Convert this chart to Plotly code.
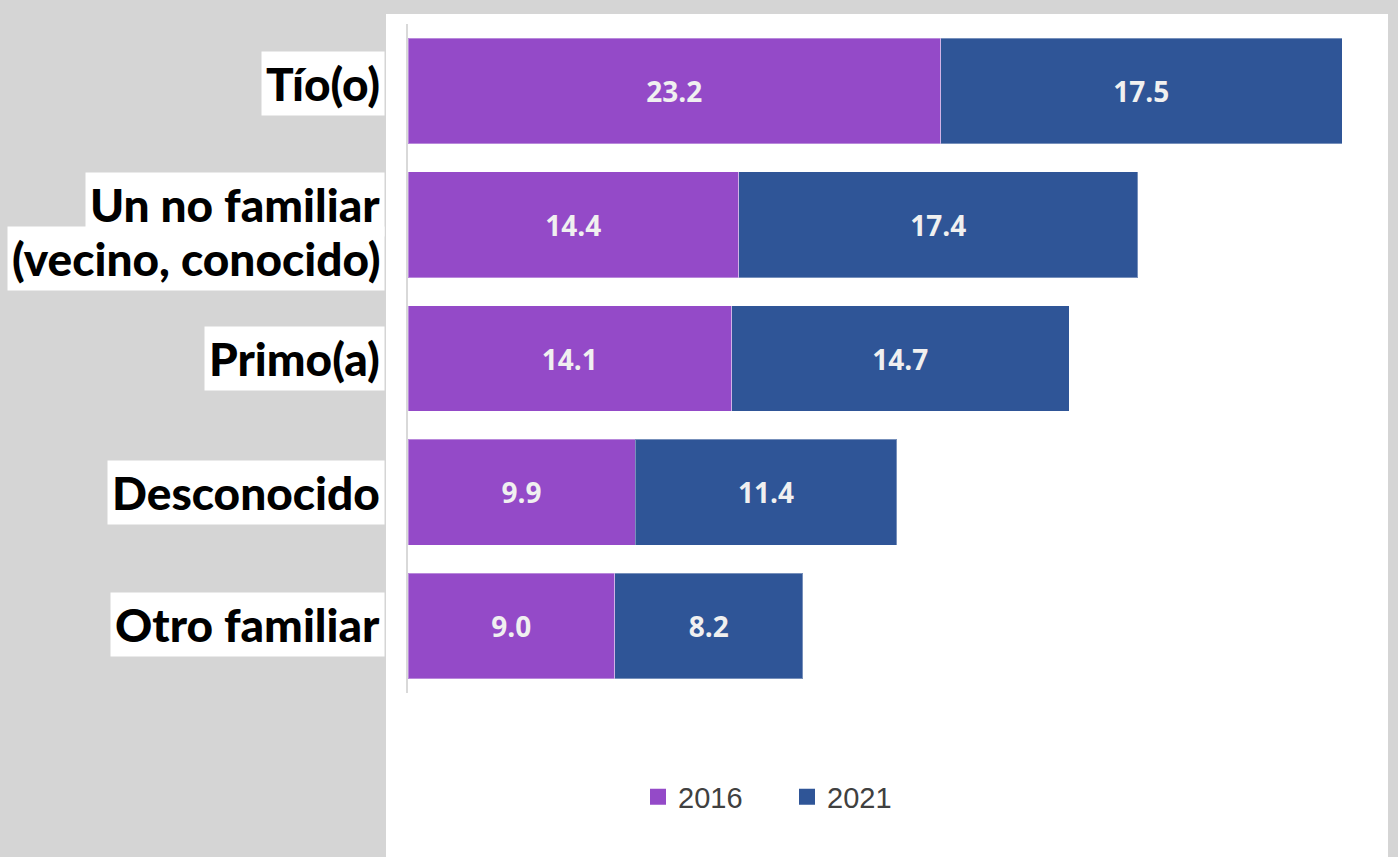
import plotly.graph_objects as go

categories = ["Tío(o)", "Un no familiar (vecino, conocido)", "Primo(a)", "Desconocido", "Otro familiar"]
values_2016 = [23.2, 14.4, 14.1, 9.9, 9.0]
values_2021 = [17.5, 17.4, 14.7, 11.4, 8.2]
series_names = ["2016", "2021"]
colors = ["#944AC8", "#2F5597"]

W, H = 1398, 857
L, R, T, B = 408, 26, 24, 164
pw, ph = W - L - R, H - T - B

def px_x(p):
    return (p - L) / pw

def px_y(p):
    return (H - B - p) / ph

fig = go.Figure()
for name, vals, col in zip(series_names, [values_2016, values_2021], colors):
    fig.add_trace(go.Bar(
        y=categories, x=vals, name=name, orientation="h", showlegend=False,
        marker=dict(color=col, line=dict(color="rgba(255,255,255,0.35)", width=1)),
        text=[f"{v:.1f}" for v in vals], textposition="inside",
        insidetextanchor="middle",
        textfont=dict(family="Open Sans", size=28, color="#f0f0f0", weight="bold"),
        hoverinfo="skip",
    ))
# legend entries with larger square swatches
for name, col in zip(series_names, colors):
    fig.add_trace(go.Scatter(
        x=[None], y=[None], mode="markers", name=name,
        marker=dict(symbol="square", size=17, color=col), hoverinfo="skip",
    ))

# white panel behind the chart
fig.add_shape(type="rect", xref="paper", yref="paper",
              x0=px_x(386), x1=px_x(1388), y0=px_y(860), y1=px_y(14),
              fillcolor="white", line=dict(width=0), layer="below")

label_font = dict(family="Lato", size=46, color="black", weight=900)
ax = px_x(385)
single = {0: 7, 2: 0, 3: 0, 4: 2}
for i, cat in enumerate(categories):
    if i == 1:
        lines = [("Un no familiar", 20), ("(vecino, conocido)", -34)]
    else:
        lines = [(cat, single[i])]
    for txt, ys in lines:
        fig.add_annotation(
            x=ax, xref="paper", y=cat, yref="y", text=txt, showarrow=False,
            xanchor="right", yanchor="middle", yshift=ys,
            font=label_font, bgcolor="white", borderpad=4,
        )

fig.update_layout(
    width=W, height=H,
    margin=dict(l=L, r=R, t=T, b=B, autoexpand=False),
    paper_bgcolor="#d5d5d5", plot_bgcolor="white",
    barmode="stack", bargap=0.21,
    showlegend=True,
    legend=dict(orientation="h", x=px_x(787), xanchor="center",
                y=px_y(797), yanchor="middle",
                font=dict(family="Liberation Sans", size=29, color="#404040"),
                bgcolor="rgba(0,0,0,0)", traceorder="normal", itemwidth=30,
                entrywidth=104, entrywidthmode="pixels"),
    xaxis=dict(range=[0, 42], showgrid=False, zeroline=False, showticklabels=False, showline=False),
    yaxis=dict(autorange="reversed", showticklabels=False, showgrid=False, zeroline=False,
               showline=True, linecolor="#d9d9d9", linewidth=2, ticks=""),
)

fig.write_html("out.html", config={"displayModeBar": False},
               post_script="document.body.style.margin='0';")
